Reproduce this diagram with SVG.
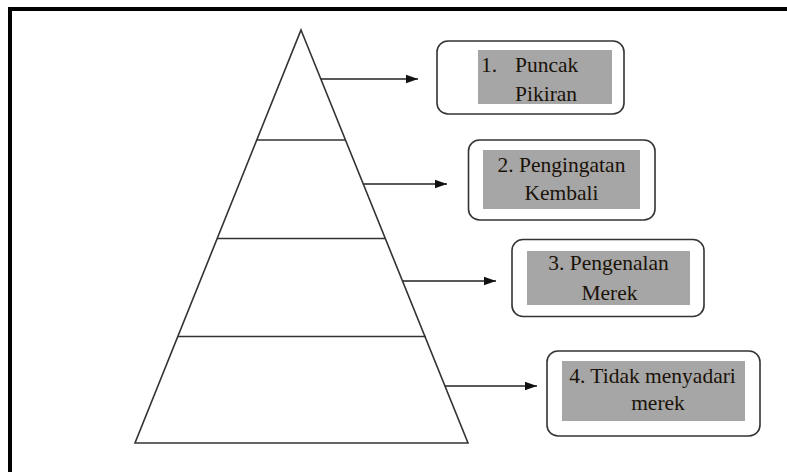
<svg xmlns="http://www.w3.org/2000/svg" width="787" height="472" viewBox="0 0 787 472">
<style>
.frame{fill:none;stroke:#000;stroke-width:4}
.pyr{fill:none;stroke:#333;stroke-width:1.6}
.box{fill:#fff;stroke:#333;stroke-width:1.6}
.hl{fill:#a6a6a6}
text{font-family:'Liberation Serif','Times New Roman',serif;font-size:21.5px;fill:#1a1208}
.c{text-anchor:middle}
.con{stroke:#222;stroke-width:1.6;fill:none;marker-end:url(#ah)}
</style>
<defs>
<marker id="ah" viewBox="0 0 12 10" refX="12" refY="5" markerWidth="12" markerHeight="10" markerUnits="userSpaceOnUse" orient="auto">
<path d="M0,0.8 L12,5 L0,9.2 Z" fill="#111"/>
</marker>
</defs>
<rect width="787" height="472" fill="#fff"/>
<path class="frame" d="M10,472 V9 H787"/>
<g id="pyramid">
<path class="pyr" d="M301,30 L468,443 L135,443 Z"/>
<line class="pyr" x1="257" y1="140" x2="345" y2="140"/>
<line class="pyr" x1="217" y1="238.5" x2="385" y2="238.5"/>
<line class="pyr" x1="178" y1="336.5" x2="426" y2="336.5"/>
</g>
<g id="connectors">
<line class="con" x1="321" y1="79" x2="418" y2="79"/>
<line class="con" x1="364" y1="184" x2="447" y2="184"/>
<line class="con" x1="403" y1="281" x2="496" y2="281"/>
<line class="con" x1="445" y1="386" x2="537" y2="386"/>
</g>
<g id="node1">
<rect class="box" x="437" y="41" width="187" height="73" rx="11"/>
<rect class="hl" x="478" y="50" width="134" height="54"/>
<text x="481" y="72">1.</text>
<text x="515" y="72">Puncak</text>
<text x="515" y="101">Pikiran</text>
</g>
<g id="node2">
<rect class="box" x="468.5" y="140" width="186.5" height="80" rx="11"/>
<rect class="hl" x="483" y="150" width="157" height="59"/>
<text class="c" x="561.5" y="172">2. Pengingatan</text>
<text class="c" x="561.5" y="200">Kembali</text>
</g>
<g id="node3">
<rect class="box" x="512" y="239.5" width="192" height="77" rx="11"/>
<rect class="hl" x="527" y="251" width="163" height="54"/>
<text class="c" x="608.5" y="269.5">3. Pengenalan</text>
<text class="c" x="609.5" y="300">Merek</text>
</g>
<g id="node4">
<rect class="box" x="547" y="351" width="213" height="85" rx="11"/>
<rect class="hl" x="562" y="361" width="183" height="60"/>
<text class="c" x="652.5" y="383">4. Tidak menyadari</text>
<text class="c" x="658" y="410">merek</text>
</g>
</svg>
